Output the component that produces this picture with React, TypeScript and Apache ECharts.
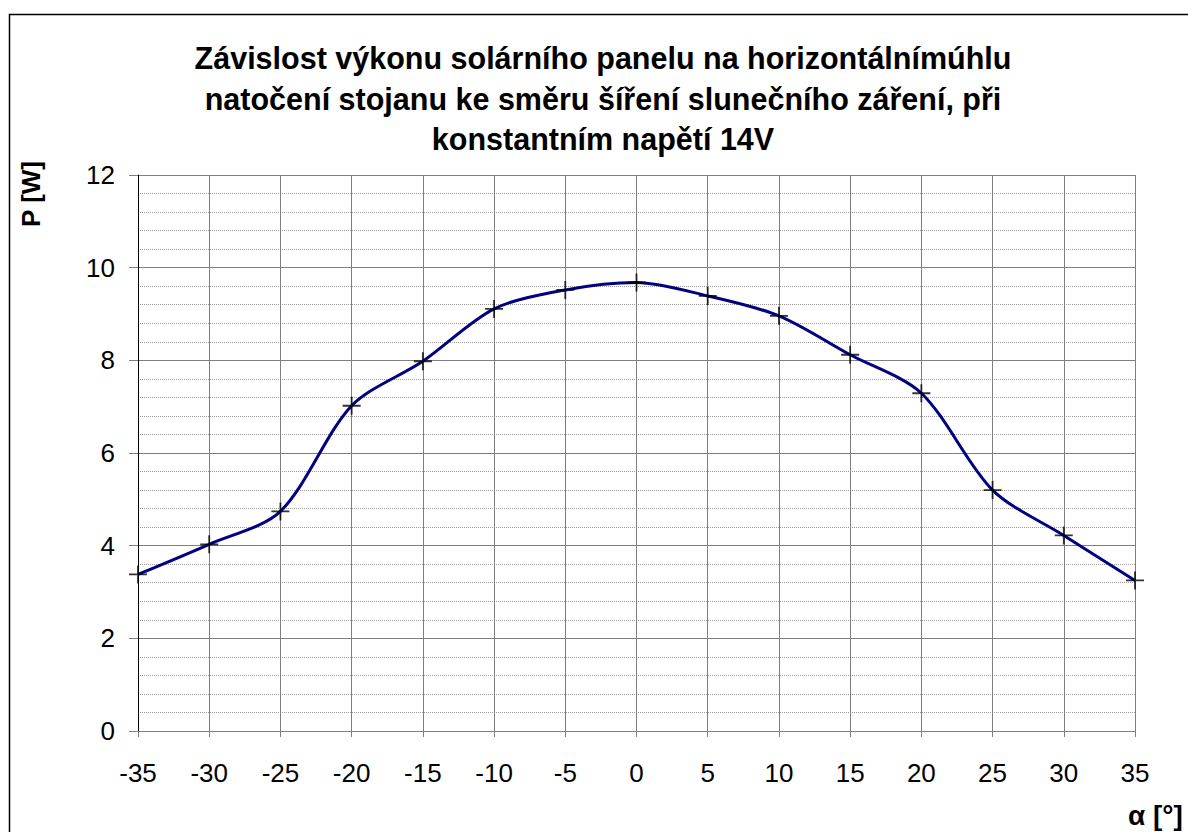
import React, { useEffect, useRef } from "react";
import * as echarts from "echarts";

const angles = [-35, -30, -25, -20, -15, -10, -5, 0, 5, 10, 15, 20, 25, 30, 35];
const power = [3.38, 4.03, 4.74, 7.02, 7.98, 9.11, 9.52, 9.68, 9.39, 8.96, 8.12, 7.29, 5.2, 4.22, 3.25];
const titleLines = [
  "Závislost výkonu solárního panelu na horizontálnímúhlu",
  "natočení stojanu ke směru šíření slunečního záření, při",
  "konstantním napětí 14V",
];
const yName = "P [W]";
const xName = "α [°]";

const FONT = "'Liberation Sans', Arial, sans-serif";
const PLUS = "path://M-1,-10 L1,-10 L1,-1 L10,-1 L10,1 L1,1 L1,10 L-1,10 L-1,1 L-10,1 L-10,-1 L-1,-1 Z";

export default function App() {
  const ref = useRef<HTMLDivElement>(null);
  useEffect(() => {
    document.body.style.margin = "0";
    const chart = echarts.init(ref.current!, null, { renderer: "svg" });
    chart.setOption({
      animation: false,
      backgroundColor: "#ffffff",
      grid: { left: 138, right: 53, top: 175, bottom: 101 },
      xAxis: {
        type: "value",
        min: -35,
        max: 35,
        interval: 5,
        axisLine: { lineStyle: { color: "#808080", width: 1 } },
        axisTick: { show: true, inside: false, length: 6, lineStyle: { color: "#808080" } },
        axisLabel: { color: "#000", fontFamily: FONT, fontSize: 26, margin: 29 },
        splitLine: { show: true, lineStyle: { color: "#808080", width: 1 } },
      },
      yAxis: {
        type: "value",
        min: 0,
        max: 12,
        interval: 2,
        axisLine: { show: true, onZero: false, lineStyle: { color: "#000", width: 1 } },
        axisTick: { show: true, inside: false, length: 9, lineStyle: { color: "#808080" } },
        axisLabel: { color: "#000", fontFamily: FONT, fontSize: 26, margin: 23 },
        splitLine: { show: true, lineStyle: { color: "#808080", width: 1.2 } },
        minorTick: { show: false, splitNumber: 5 },
        minorSplitLine: { show: true, lineStyle: { color: "#9a9a9a", width: 1, type: [1, 1] } },
      },
      series: [
        {
          type: "line",
          data: angles.map((a, i) => [a, power[i]]),
          smooth: 0.3,
          symbol: "none",
          lineStyle: { color: "#000080", width: 3 },
          z: 3,
        },
        {
          type: "scatter",
          data: angles.map((a, i) => [a, power[i]]),
          symbol: PLUS,
          symbolSize: 18,
          itemStyle: { color: "#000" },
          z: 4,
        },
      ],
      graphic: [
        {
          type: "rect",
          shape: { x: 9.5, y: 14.5, width: 1300, height: 1000 },
          style: { fill: "none", stroke: "#000", lineWidth: 1.5 },
          silent: true,
        },
        ...titleLines.map((t, i) => ({
          type: "text",
          x: 603,
          y: 58 + i * 40.5,
          style: {
            text: t,
            fill: "#000",
            font: `bold 30.5px ${FONT}`,
            textAlign: "center",
            textVerticalAlign: "middle",
          },
        })),
        {
          type: "text",
          x: 31,
          y: 194,
          rotation: Math.PI / 2,
          style: {
            text: yName,
            fill: "#000",
            font: `bold 26px ${FONT}`,
            textAlign: "center",
            textVerticalAlign: "middle",
          },
        },
        {
          type: "text",
          x: 1128,
          y: 815,
          style: {
            text: xName,
            fill: "#000",
            font: `bold 28px ${FONT}`,
            textAlign: "left",
            textVerticalAlign: "middle",
          },
        },
      ],
    });
    return () => chart.dispose();
  }, []);
  return <div ref={ref} style={{ width: 1188, height: 832 }} />;
}
